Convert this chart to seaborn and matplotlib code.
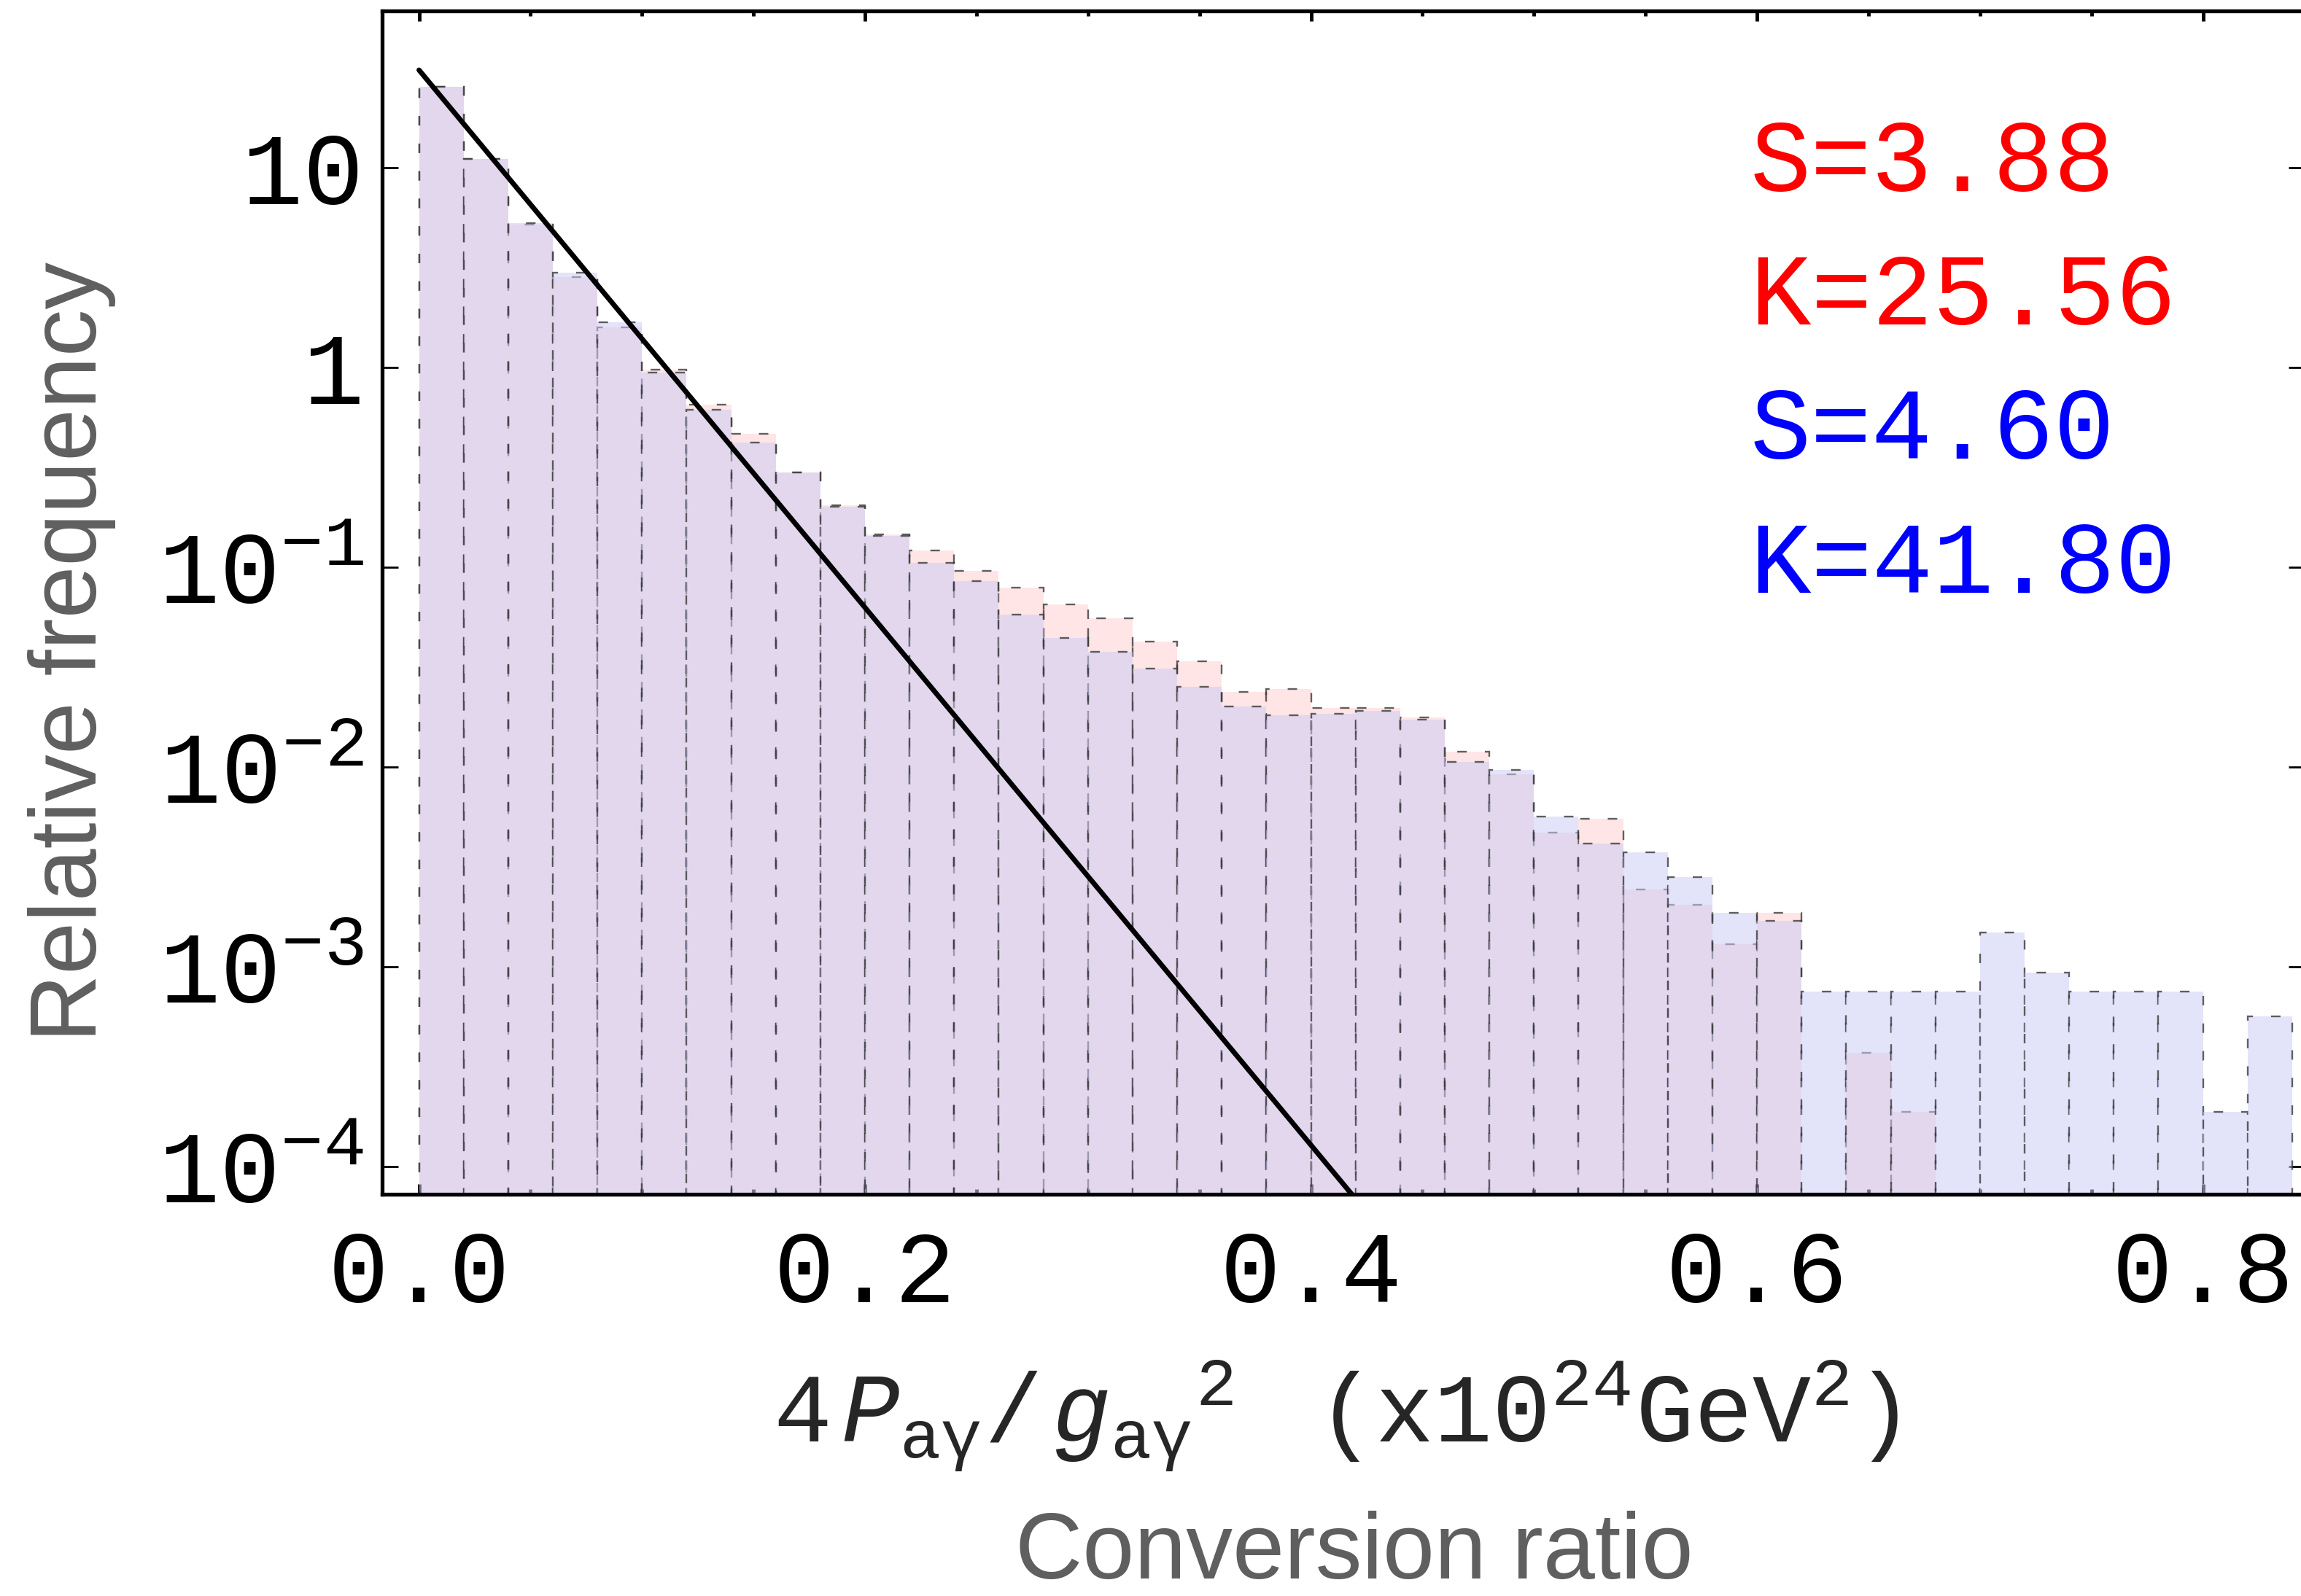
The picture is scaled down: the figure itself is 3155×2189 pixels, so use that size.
import numpy as np
import pandas as pd
import matplotlib
matplotlib.use("Agg")
import matplotlib.pyplot as plt
from matplotlib.ticker import FixedLocator, LogLocator, NullFormatter, MultipleLocator
import seaborn as sns

# ---- data -------------------------------------------------------------
bin_width = 0.02
n_bins = 42

# relative frequency per bin (bin k covers [k*0.02, (k+1)*0.02])
red_freq = [25.3, 11.06, 5.19, 2.82, 1.59, 0.976, 0.651, 0.466, 0.297, 0.2034,
            0.1454, 0.1213, 0.0956, 0.0789, 0.0650, 0.0553, 0.0423, 0.0337, 0.0237, 0.0245,
            0.0198, 0.0198, 0.0177, 0.0119, 0.00914, 0.00469, 0.00551, 0.00243, 0.00204, 0.00130,
            0.00186, 0.0, 3.70e-4, 1.88e-4, 0.0, 0.0, 0.0, 0.0, 0.0, 0.0,
            0.0, 0.0]
blue_freq = [25.3, 11.06, 5.28, 2.98, 1.68, 0.940, 0.611, 0.420, 0.297, 0.2005,
             0.1433, 0.1052, 0.0852, 0.0579, 0.0442, 0.0376, 0.0310, 0.0252, 0.0201, 0.0182,
             0.0185, 0.0191, 0.0173, 0.0106, 0.00967, 0.00565, 0.00413, 0.00374, 0.00281, 0.00186,
             0.00169, 7.53e-4, 7.53e-4, 7.53e-4, 7.53e-4, 1.48e-3, 9.33e-4, 7.53e-4, 7.53e-4, 7.53e-4,
             1.87e-4, 5.62e-4]

# exponential reference line (end points)
line_x = [0.0, 0.44]
line_y = [30.8, 3.7e-5]

stats_text = ["S=3.88", "K=25.56", "S=4.60", "K=41.80"]
stats_color = ["#ff0000", "#ff0000", "#0000ff", "#0000ff"]

x_major = [0.0, 0.2, 0.4, 0.6, 0.8]
x_labels = ["0.0", "0.2", "0.4", "0.6", "0.8"]
y_major = [1e-4, 1e-3, 1e-2, 1e-1, 1, 10]
y_labels = [r"$10^{-4}$", r"$10^{-3}$", r"$10^{-2}$", r"$10^{-1}$", "1", "10"]

# ---- style ------------------------------------------------------------
sns.set_theme(style="ticks")
plt.rcParams.update({
    "font.family": ["Liberation Mono", "DejaVu Sans"],
    "mathtext.fontset": "custom",
    "mathtext.rm": "Liberation Mono",
    "mathtext.it": "Liberation Mono:italic",
    "mathtext.bf": "Liberation Mono:bold",
    "mathtext.default": "rm",
    "axes.linewidth": 3.8,
    "axes.edgecolor": "black",
    "xtick.color": "black",
    "ytick.color": "black",
})

fig = plt.figure(figsize=(31.55, 21.89), dpi=100)
ax = fig.add_axes([0.16609, 0.25171, 0.83549, 0.74121])

centers = (np.arange(n_bins) + 0.5) * bin_width
df = pd.DataFrame({"ratio": centers, "red": red_freq, "blue": blue_freq})

edge_rgba = (0.22, 0.22, 0.22, 0.8)
dash = (0, (5.5, 10.5))


def draw_hist(weights, face):
    start = len(ax.patches)
    sns.histplot(data=df, x="ratio", weights=weights, binwidth=bin_width,
                 binrange=(0.0, n_bins * bin_width), stat="count",
                 color=face[:3], ax=ax)
    for p in ax.patches[start:]:
        h = p.get_height()
        if h <= 0:
            p.set_visible(False)
            continue
        p.set_alpha(None)
        p.set_facecolor(face)
        p.set_edgecolor(edge_rgba)
        p.set_linewidth(1.7)
        p.set_linestyle(dash)
        p.set_y(1e-6)
        p.set_height(h - 1e-6)


draw_hist("red", (1.0, 0.0, 0.0, 0.10))
draw_hist("blue", (204 / 255, 204 / 255, 246 / 255, 0.55))

sns.lineplot(x=line_x, y=line_y, color="black", linewidth=5.0, ax=ax, zorder=5)

ax.set_yscale("log")
ax.set_xlim(-0.01652, 0.8456)
ax.set_ylim(7.25e-5, 60.6)
ax.set_xlabel("")
ax.set_ylabel("")

ax.xaxis.set_major_locator(FixedLocator(x_major))
ax.set_xticklabels(x_labels)
ax.xaxis.set_minor_locator(MultipleLocator(0.05))
ax.yaxis.set_major_locator(FixedLocator(y_major))
ax.set_yticklabels(y_labels)
ax.yaxis.set_minor_locator(LogLocator(base=10, subs=np.arange(2, 10)))
ax.yaxis.set_minor_formatter(NullFormatter())

ax.tick_params(axis="both", which="both", direction="in", top=True, right=True)
ax.tick_params(axis="y", which="major", length=16, width=2.0, labelsize=100, pad=18)
ax.tick_params(axis="y", which="minor", length=8.5, width=1.5)
ax.tick_params(axis="x", which="major", length=10, width=3.5, labelsize=100, pad=34)
ax.tick_params(axis="x", which="minor", length=5, width=3.5)
for s in ax.spines.values():
    s.set_linewidth(3.8)

for i, (t, c) in enumerate(zip(stats_text, stats_color)):
    ax.text(0.7117, 0.8483 - i * 0.1133, t, transform=ax.transAxes, color=c,
            fontsize=100, ha="left", va="baseline")

fig.text(0.5804, 0.0964,
         r"$4\,\mathit{P}_{\mathrm{a}\gamma}/\,\mathit{g}_{\mathrm{a}\gamma}{}^{2}\quad\ (\mathrm{x}10^{24}\mathrm{GeV}^{2})$",
         ha="center", va="baseline", fontsize=96)

fig.text(0.5886, 0.011, "Conversion ratio", ha="center", va="baseline",
         fontsize=92, color="#5f5f5f", family=["Liberation Sans", "DejaVu Sans"])
fig.text(0.0418, 0.5914, "Relative frequency", ha="center", va="baseline",
         rotation=90, rotation_mode="anchor", fontsize=93, color="#5f5f5f",
         family=["Liberation Sans", "DejaVu Sans"])

fig.savefig("out.png", dpi=100)
